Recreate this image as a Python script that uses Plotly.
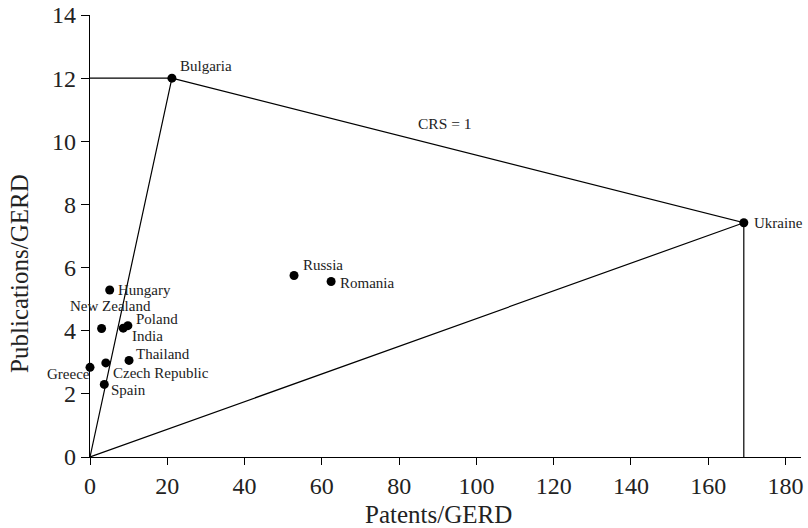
import plotly.graph_objects as go

countries = ["Bulgaria", "Ukraine", "Russia", "Romania", "Hungary", "New Zealand",
             "Poland", "India", "Thailand", "Czech Republic", "Greece", "Spain"]
patents = [21.2, 169.2, 52.8, 62.4, 5.1, 3.0, 9.8, 8.6, 10.1, 4.1, 0.0, 3.7]
publications = [12.0, 7.42, 5.75, 5.56, 5.29, 4.07, 4.16, 4.08, 3.06, 2.98, 2.84, 2.30]

x_ticks = [0, 20, 40, 60, 80, 100, 120, 140, 160, 180]
y_ticks = [0, 2, 4, 6, 8, 10, 12, 14]

# label placement style: (xanchor, xshift, yshift)
label_style = {
    "Bulgaria": ("left", 6, 12),
    "Ukraine": ("left", 8, 0),
    "Russia": ("left", 7, 10),
    "Romania": ("left", 7, -2),
    "Hungary": ("left", 6, 0),
    "New Zealand": ("center", 9, 23),
    "Poland": ("left", 6, 7),
    "India": ("left", 7, -8),
    "Thailand": ("left", 5, 6),
    "Czech Republic": ("left", 5, -10),
    "Greece": ("right", 2, -7),
    "Spain": ("left", 5, -6),
}

FONT = "Liberation Serif"
bx, by = patents[0], publications[0]
ux, uy = patents[1], publications[1]

fig = go.Figure()
fig.add_trace(go.Scatter(
    x=[0, bx, ux, ux, None, bx, 0, ux],
    y=[by, by, uy, 0, None, by, 0, uy],
    mode="lines", line=dict(color="black", width=1.2),
    hoverinfo="skip", showlegend=False, cliponaxis=False,
))
fig.add_trace(go.Scatter(
    x=patents, y=publications, mode="markers",
    marker=dict(color="black", size=9),
    showlegend=False, cliponaxis=False,
))

for c, px, py in zip(countries, patents, publications):
    anc, xs, ys = label_style[c]
    fig.add_annotation(x=px, y=py, text=c, showarrow=False, xanchor=anc,
                       yanchor="middle", xshift=xs, yshift=ys,
                       font=dict(family=FONT, size=15, color="#222"))

fig.add_annotation(x=91.9, y=10.57, text="CRS = 1", showarrow=False,
                   font=dict(family=FONT, size=15.5, color="#222"))
fig.add_annotation(xref="paper", x=0, xanchor="center", xshift=-70,
                   yref="y", y=5.8, text="Publications/GERD", textangle=-90,
                   showarrow=False, font=dict(family=FONT, size=25, color="#222"))
fig.add_annotation(xref="paper", x=0.49, yref="paper", y=0, yanchor="bottom",
                   yshift=-72, borderpad=0, text="Patents/GERD", showarrow=False,
                   font=dict(family=FONT, size=25, color="#222"))

fig.update_layout(
    width=808, height=528,
    margin=dict(l=90, r=7, t=15, b=71, autoexpand=False),
    paper_bgcolor="white", plot_bgcolor="white",
    font=dict(family=FONT, color="#222"),
)
fig.update_xaxes(
    range=[0, 184], tickvals=x_ticks, ticks="outside", ticklen=7,
    tickcolor="black", showline=True, linecolor="black", linewidth=1.3,
    showgrid=False, zeroline=False, tickfont=dict(family=FONT, size=24),
    automargin=False,
)
fig.update_yaxes(
    range=[0, 14], tickvals=y_ticks, ticks="outside", ticklen=8,
    tickcolor="black", showline=True, linecolor="black", linewidth=1.3,
    showgrid=False, zeroline=False, tickfont=dict(family=FONT, size=24),
    automargin=False,
)

fig.write_html("out.html")
